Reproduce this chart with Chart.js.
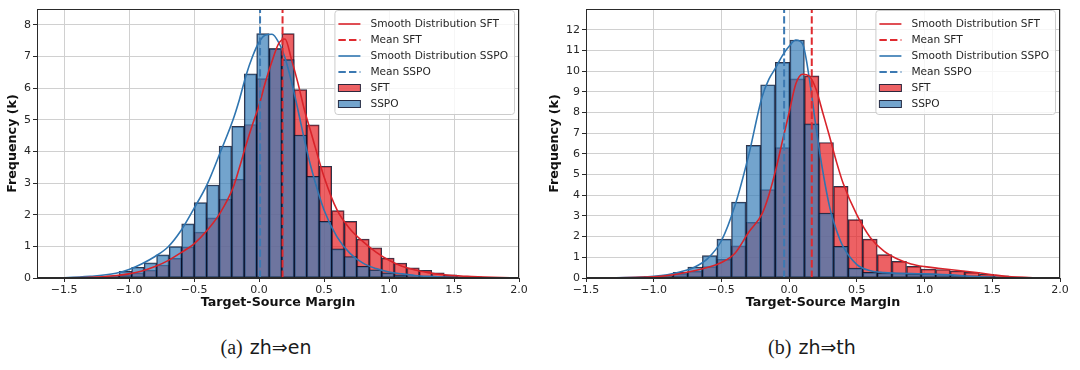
<!DOCTYPE html>
<html>
<head>
<meta charset="utf-8">
<script src="https://cdn.jsdelivr.net/npm/chart.js@4.4.1/dist/chart.umd.min.js"></script>
<style>
  html, body { margin: 0; padding: 0; background: #fff; }
  #wrap { position: relative; width: 1080px; height: 370px; }
  .plot { position: absolute; top: 0; width: 540px; height: 318px; }
  .cap { position: absolute; top: 336px; width: 200px; text-align: center; line-height: 22px;
         font-family: "DejaVu Sans"; font-size: 19px; color: #1a1a1a; }
  .cap .lbl { font-family: "Liberation Serif"; font-size: 20px; margin-right: 7px; }
</style>
</head>
<body>
<div id="wrap">
  <div class="plot" style="left:0"><canvas id="chartEn"></canvas></div>
  <div class="plot" style="left:540px"><canvas id="chartTh"></canvas></div>
  <div class="cap" style="left:166px"><span class="lbl">(a)</span>zh⇒en</div>
  <div class="cap" style="left:712px"><span class="lbl">(b)</span>zh⇒th</div>
</div>
<script>
// ---- (a) zh⇒en : histogram bins (centres), counts in thousands
const binsEn = [-1.317, -1.221, -1.124, -1.028, -0.932, -0.836, -0.740, -0.643, -0.547, -0.451,
  -0.355, -0.259, -0.162, -0.066, 0.030, 0.126, 0.223, 0.319, 0.415, 0.511, 0.607, 0.704,
  0.800, 0.896, 0.992, 1.088, 1.185, 1.281, 1.377, 1.473, 1.569, 1.666, 1.762];
const sftEn = [0.01, 0.02, 0.05, 0.1, 0.16, 0.25, 0.41, 0.62, 0.98, 1.45,
  1.9, 2.49, 3.12, 4.85, 6.3, 7.25, 7.72, 5.95, 4.84, 3.53, 2.13, 1.79,
  1.23, 0.95, 0.63, 0.47, 0.32, 0.24, 0.16, 0.1, 0.06, 0.04, 0.02];
const sspoEn = [0.01, 0.03, 0.07, 0.21, 0.34, 0.48, 0.73, 0.99, 1.71, 2.38,
  2.94, 4.17, 4.79, 6.45, 7.72, 7.25, 6.9, 4.52, 3.21, 1.79, 0.92, 0.68,
  0.37, 0.26, 0.16, 0.1, 0.07, 0.05, 0.03, 0.02, 0.01, 0, 0];
// smooth curves
const kdeXEn = [-1.7, -1.5, -1.3, -1.1, -1.0, -0.9, -0.8, -0.7, -0.6, -0.5, -0.4, -0.3, -0.2, -0.15,
  -0.1, -0.05, 0.0, 0.05, 0.1, 0.15, 0.2, 0.25, 0.3, 0.35, 0.4, 0.5, 0.6, 0.7, 0.8, 0.9,
  1.0, 1.1, 1.2, 1.3, 1.4, 1.5, 1.6, 1.8, 2.0];
const kdeSftEn = [0, 0.005, 0.02, 0.08, 0.13, 0.22, 0.36, 0.55, 0.8, 1.08, 1.5, 2.05, 2.85, 3.5,
  4.2, 4.85, 5.45, 6.2, 6.85, 7.4, 7.55, 6.9, 6.15, 5.3, 4.6, 3.2, 2.15, 1.55, 1.15, 0.82,
  0.56, 0.37, 0.25, 0.17, 0.11, 0.08, 0.05, 0.02, 0.005];
const kdeSspoEn = [0, 0.01, 0.05, 0.15, 0.27, 0.45, 0.68, 0.98, 1.5, 2.2, 2.95, 3.95, 5.0, 5.65,
  6.4, 7.0, 7.45, 7.68, 7.7, 7.45, 6.95, 6.2, 5.3, 4.35, 3.5, 2.15, 1.3, 0.78, 0.47, 0.3,
  0.19, 0.13, 0.08, 0.05, 0.03, 0.02, 0.01, 0.003, 0];
const meanSftEn = 0.181;
const meanSspoEn = 0.008;
const xTicksEn = [-1.5, -1.0, -0.5, 0.0, 0.5, 1.0, 1.5, 2.0];
const yTicksEn = [0, 1, 2, 3, 4, 5, 6, 7, 8];

// ---- (b) zh⇒th
const binsTh = [-1.018, -0.910, -0.803, -0.695, -0.587, -0.480, -0.372, -0.264, -0.157, -0.049,
  0.059, 0.167, 0.274, 0.382, 0.490, 0.597, 0.705, 0.813, 0.921, 1.028, 1.136, 1.244,
  1.351, 1.459, 1.567, 1.674, 1.782];
const sftTh = [0.04, 0.1, 0.2, 0.32, 0.55, 0.9, 1.55, 2.69, 4.27, 6.3,
  9.62, 9.77, 6.55, 4.43, 2.82, 1.88, 1.13, 0.8, 0.56, 0.43, 0.41, 0.34,
  0.27, 0.18, 0.1, 0.05, 0.02];
const sspoTh = [0.08, 0.12, 0.27, 0.53, 1.08, 1.88, 3.67, 6.41, 9.34, 10.42,
  11.5, 7.45, 3.14, 1.53, 0.48, 0.27, 0.24, 0.24, 0.2, 0.2, 0.18, 0.14,
  0.1, 0.06, 0.03, 0.01, 0];
const kdeXTh = [-1.5, -1.3, -1.1, -1.0, -0.9, -0.8, -0.7, -0.6, -0.5, -0.4, -0.3, -0.2, -0.15,
  -0.1, -0.05, 0.0, 0.05, 0.1, 0.15, 0.2, 0.25, 0.3, 0.35, 0.4, 0.5, 0.6, 0.7, 0.8, 0.9,
  1.0, 1.1, 1.2, 1.3, 1.4, 1.5, 1.6, 1.8, 2.0];
const kdeSftTh = [0, 0.01, 0.03, 0.06, 0.12, 0.22, 0.35, 0.52, 0.75, 1.2, 2.2, 3.1, 4.0,
  5.2, 6.6, 8.0, 9.4, 9.85, 9.75, 9.1, 7.95, 6.8, 5.6, 4.55, 3.05, 1.95, 1.3, 0.92, 0.68,
  0.55, 0.47, 0.4, 0.33, 0.25, 0.16, 0.08, 0.015, 0.002];
const kdeSspoTh = [0, 0.01, 0.04, 0.08, 0.16, 0.3, 0.52, 0.95, 1.8, 3.5, 5.9, 8.75, 9.6,
  10.15, 10.75, 11.2, 11.5, 11.3, 9.6, 7.2, 5.1, 3.4, 2.3, 1.5, 0.65, 0.35, 0.26, 0.23, 0.21,
  0.2, 0.18, 0.15, 0.1, 0.06, 0.03, 0.015, 0.003, 0];
const meanSftTh = 0.167;
const meanSspoTh = -0.037;
const xTicksTh = [-1.5, -1.0, -0.5, 0.0, 0.5, 1.0, 1.5, 2.0];
const yTicksTh = [0, 1, 2, 3, 4, 5, 6, 7, 8, 9, 10, 11, 12];

const legendOrder = ['Smooth Distribution SFT', 'Mean SFT', 'Smooth Distribution SSPO', 'Mean SSPO', 'SFT', 'SSPO'];

const SFT_FILL = 'rgba(230, 30, 34, 0.7)';
const SSPO_FILL = 'rgba(55, 126, 184, 0.7)';
const EDGE = 'rgba(10, 15, 40, 0.85)';
const RED_LINE = '#d8232a';
const BLUE_LINE = '#2f75b0';
const AXIS = '#2a2a2a';
const GRID = '#d0d0d0';
const TXT = '#262626';
const TICK_FONT = { family: 'DejaVu Sans', size: 11 };
const TITLE_FONT = { family: 'DejaVu Sans', size: 12.7, weight: 'bold' };

const fmt = v => v.toFixed(1).replace('-', '\u2212');
const pts = (xs, ys) => xs.map((x, i) => ({ x: x, y: ys[i] }));

// frame round the plot + legend box in the upper right corner
const frameAndLegend = {
  id: 'frameAndLegend',
  afterDatasetsDraw(chart) {
    const { ctx, chartArea: a } = chart;
    ctx.save();
    ctx.strokeStyle = AXIS;
    ctx.lineWidth = 1;
    ctx.strokeRect(a.left + 0.5, a.top + 0.5, a.width - 1, a.height - 1);

    const sets = legendOrder.map(l => chart.data.datasets.find(d => d.label === l));
    ctx.font = '10.6px "DejaVu Sans"';
    const textW = Math.max(...sets.map(d => ctx.measureText(d.label).width));
    const w = textW + 42, rowH = 16, top = a.top + 1;
    const h = rowH * sets.length + 8;
    const x0 = a.right - w - 5;
    ctx.fillStyle = 'rgba(255,255,255,0.8)';
    ctx.strokeStyle = '#cccccc';
    ctx.beginPath();
    ctx.roundRect(x0 + 0.5, top + 0.5, w, h, 3);
    ctx.fill();
    ctx.stroke();
    sets.forEach((d, i) => {
      const cy = top + 14 + i * rowH;
      if (d.type === 'line') {
        ctx.strokeStyle = d.borderColor;
        ctx.lineWidth = d.borderWidth;
        ctx.setLineDash(d.borderDash || []);
        ctx.beginPath();
        ctx.moveTo(x0 + 4, cy);
        ctx.lineTo(x0 + 26, cy);
        ctx.stroke();
        ctx.setLineDash([]);
      } else {
        ctx.fillStyle = d.backgroundColor;
        ctx.fillRect(x0 + 4, cy - 3.5, 22, 7);
        ctx.strokeStyle = d.borderColor;
        ctx.lineWidth = 1;
        ctx.strokeRect(x0 + 4, cy - 3.5, 22, 7);
      }
      ctx.fillStyle = TXT;
      ctx.textBaseline = 'middle';
      ctx.fillText(d.label, x0 + 36, cy + 0.5);
    });
    ctx.restore();
  }
};

function histChart(id, o) {
  const noPad = s => { s.paddingLeft = 0; s.paddingRight = 0; s.paddingTop = 0; s.paddingBottom = 0; };
  return new Chart(document.getElementById(id), {
    type: 'bar',
    data: {
      datasets: [
        { type: 'line', label: 'Mean SFT', data: [{ x: o.meanSft, y: 0 }, { x: o.meanSft, y: o.yMax }],
          borderColor: '#df2a2f', borderWidth: 2, borderDash: [7.4, 3.2], pointRadius: 0, order: 0 },
        { type: 'line', label: 'Mean SSPO', data: [{ x: o.meanSspo, y: 0 }, { x: o.meanSspo, y: o.yMax }],
          borderColor: '#3c79b2', borderWidth: 2, borderDash: [7.4, 3.2], pointRadius: 0, order: 0 },
        { type: 'line', label: 'Smooth Distribution SFT', data: pts(o.kdeX, o.kdeSft),
          borderColor: RED_LINE, borderWidth: 1.6, pointRadius: 0, cubicInterpolationMode: 'monotone', order: 1 },
        { type: 'line', label: 'Smooth Distribution SSPO', data: pts(o.kdeX, o.kdeSspo),
          borderColor: BLUE_LINE, borderWidth: 1.6, pointRadius: 0, cubicInterpolationMode: 'monotone', order: 1 },
        { label: 'SSPO', data: pts(o.bins, o.sspo), backgroundColor: SSPO_FILL, borderColor: EDGE,
          borderWidth: 1, borderSkipped: false, grouped: false, barPercentage: 1, categoryPercentage: 1, order: 2 },
        { label: 'SFT', data: pts(o.bins, o.sft), backgroundColor: SFT_FILL, borderColor: EDGE,
          borderWidth: 1, borderSkipped: false, grouped: false, barPercentage: 1, categoryPercentage: 1, order: 3 }
      ]
    },
    options: {
      responsive: true,
      maintainAspectRatio: false,
      animation: false,
      events: [],
      layout: { padding: { left: 0, right: o.padRight, top: 9, bottom: 0 } },
      plugins: { legend: { display: false }, tooltip: { enabled: false } },
      scales: {
        x: {
          type: 'linear', min: o.xMin, max: 2.0, offset: false,
          afterBuildTicks: s => { s.ticks = o.xTicks.map(v => ({ value: v })); },
          afterFit: s => { s.height = 40; noPad(s); },
          ticks: { font: TICK_FONT, color: TXT, padding: 2, maxRotation: 0, autoSkip: false, callback: v => fmt(v) },
          grid: { color: GRID, lineWidth: 1, offset: false, drawTicks: true, tickLength: 4, tickColor: AXIS },
          border: { display: true, color: AXIS, width: 1 },
          title: { display: true, text: 'Target-Source Margin', font: TITLE_FONT, color: '#111', padding: { top: 0, bottom: 8 } }
        },
        y: {
          min: 0, max: o.yMax,
          afterBuildTicks: s => { s.ticks = o.yTicks.map(v => ({ value: v })); },
          afterFit: s => { s.width = o.yAxisW; noPad(s); },
          ticks: { font: TICK_FONT, color: TXT, padding: 2, callback: v => String(v) },
          grid: { color: GRID, lineWidth: 1, drawTicks: true, tickLength: 4, tickColor: AXIS },
          border: { display: true, color: AXIS, width: 1 },
          title: { display: true, text: 'Frequency (k)', font: TITLE_FONT, color: '#111', padding: { top: o.yTitlePad, bottom: 0 } }
        }
      }
    },
    plugins: [frameAndLegend]
  });
}

histChart('chartEn', {
  bins: binsEn, sft: sftEn, sspo: sspoEn, kdeX: kdeXEn, kdeSft: kdeSftEn, kdeSspo: kdeSspoEn,
  meanSft: meanSftEn, meanSspo: meanSspoEn, xTicks: xTicksEn, yTicks: yTicksEn,
  xMin: -1.708, yMax: 8.5, padRight: 21, yAxisW: 37, yTitlePad: 5
});
histChart('chartTh', {
  bins: binsTh, sft: sftTh, sspo: sspoTh, kdeX: kdeXTh, kdeSft: kdeSftTh, kdeSspo: kdeSspoTh,
  meanSft: meanSftTh, meanSspo: meanSspoTh, xTicks: xTicksTh, yTicks: yTicksTh,
  xMin: -1.5, yMax: 13.0, padRight: 20, yAxisW: 46, yTitlePad: 7.5
});
</script>
</body>
</html>
